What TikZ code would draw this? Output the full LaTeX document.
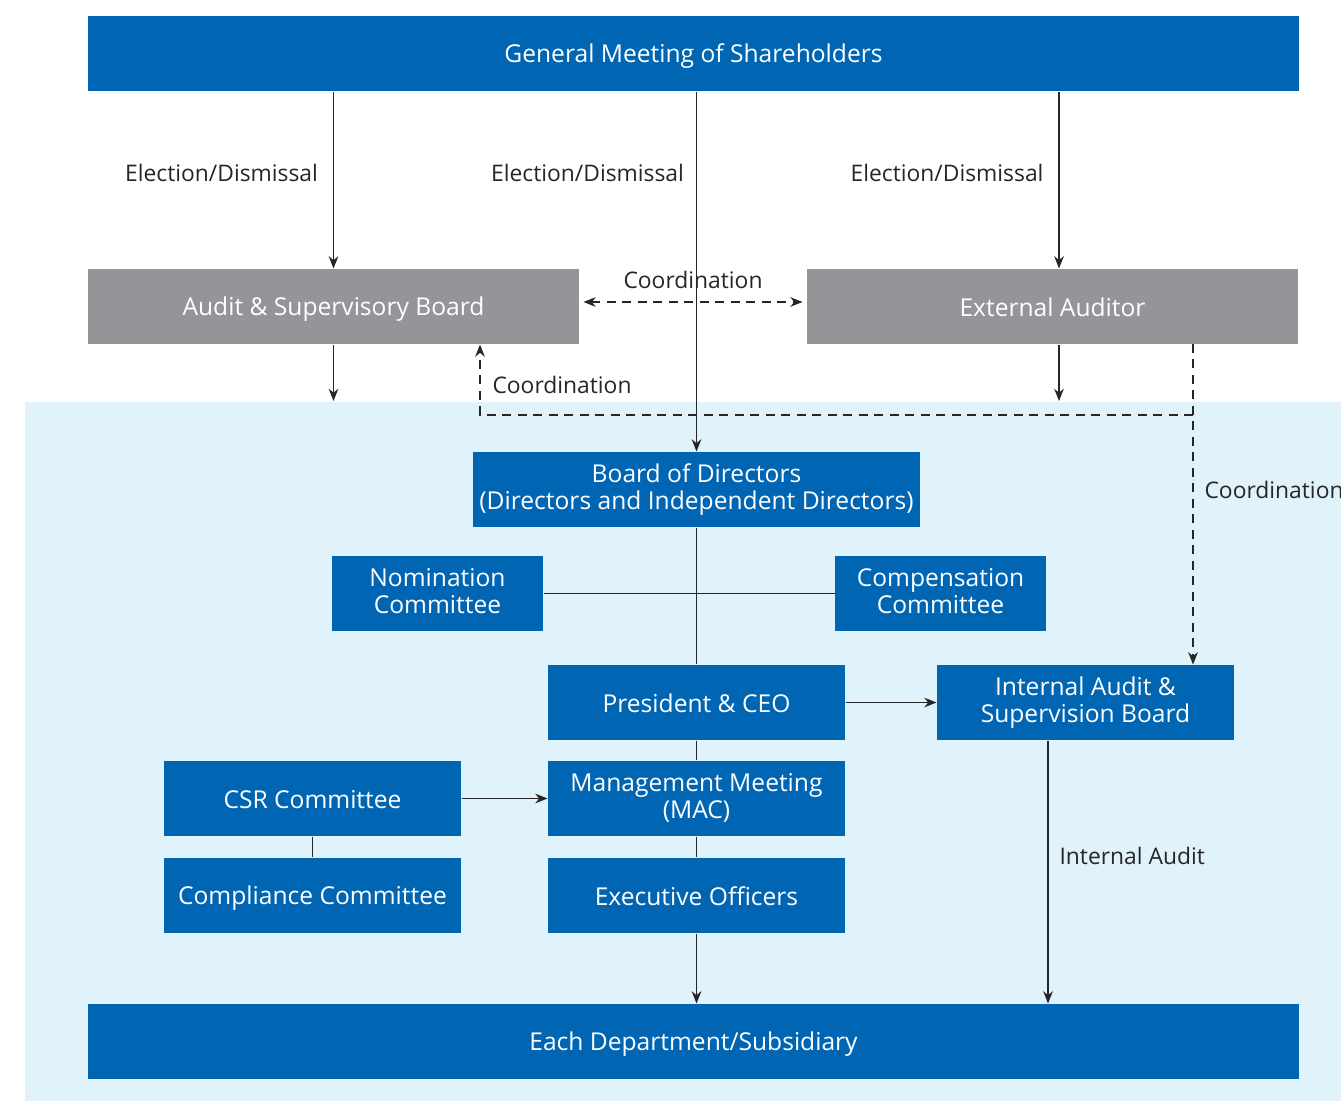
\documentclass[tikz,border=0pt]{standalone}
\usepackage{fontspec}
\setmainfont{Open Sans}
\usetikzlibrary{arrows.meta}
\definecolor{orgblue}{HTML}{0066B3}
\definecolor{orggray}{HTML}{939598}
\definecolor{orgsky}{HTML}{E0F2FA}
\newcommand\ustrut{\rule[-3pt]{0pt}{17pt}}

\begin{document}
\begin{tikzpicture}[line width=0.6pt,>={Stealth[length=7pt,width=5.5pt]},
  x=0.02cm, y=-0.02cm]
\tikzset{unit/.style={fill=orgblue,text=white,inner sep=0pt,minimum height=1.5cm,
    align=center,font=\fontsize{14}{15.3}\selectfont,
    execute at begin node=\ustrut,execute at end node=\ustrut},
  board/.style={unit,fill=orggray},
  lbl/.style={font=\fontsize{13}{15.5}\selectfont,text=black!85,inner sep=0pt},
  link/.style={draw=black!85},
  coord/.style={link,dash pattern=on 0.18cm off 0.13cm}}
\useasboundingbox (0,0) rectangle (1341,1101);
% ---------- background ----------
\node[fill=orgsky,inner sep=0pt,minimum width=26.34cm,minimum height=14cm,anchor=north west] (zone) at (24,401) {};
% ---------- boxes ----------
\node[unit,minimum width=24.22cm] (gms) at (693.5,53.5) {General Meeting of Shareholders};
\node[board,minimum width=9.82cm] (asb) at (333.5,306.5) {Audit \& Supervisory Board};
\node[board,minimum width=9.82cm] (ext) at (1052.5,306.5) {External Auditor};
\node[unit,minimum width=8.94cm] (bod) at (696.5,489.5) {Board of Directors\\(Directors and Independent Directors)};
\node[unit,minimum width=4.22cm] (nom) at (437.5,593.5) {Nomination\\Committee};
\node[unit,minimum width=4.22cm] (comp) at (940.5,593.5) {Compensation\\Committee};
\node[unit,minimum width=5.94cm] (pres) at (696.5,702.5) {President \& CEO};
\node[unit,minimum width=5.94cm] (iasb) at (1085.5,702.5) {Internal Audit \&\\Supervision Board};
\node[unit,minimum width=5.94cm] (csr) at (312.5,798.5) {CSR Committee};
\node[unit,minimum width=5.94cm] (mac) at (696.5,798.5) {Management Meeting\\(MAC)};
\node[unit,minimum width=5.94cm] (comply) at (312.5,895.5) {Compliance Committee};
\node[unit,minimum width=5.94cm] (exec) at (696.5,895.5) {Executive Officers};
\node[unit,minimum width=24.22cm] (dept) at (693.5,1041.5) {Each Department/Subsidiary};
% ---------- election / dismissal ----------
\draw[link,->] (gms.south -| asb.north) -- (asb.north)
  node[lbl,pos=0.46,left=0.3cm] (elA) {Election/Dismissal};
\draw[link,->] (gms.south -| bod.north) -- (bod.north)
  node[lbl,pos=0.225,left=0.24cm] (elB) {Election/Dismissal};
\draw[link,->] ([xshift=0.13cm]gms.south -| ext.north) -- ([xshift=0.13cm]ext.north)
  node[lbl,pos=0.46,left=0.3cm] (elC) {Election/Dismissal};
% ---------- coordination ----------
\draw[coord,<->] ([shift={(0.08cm,0.09cm)}]asb.east) -- ([shift={(-0.08cm,0.09cm)}]ext.west)
  node[lbl,midway,above=0.25cm] (coA) {Coordination};
\coordinate (cx) at (1193,344);
\coordinate (cy) at (480,415);
\draw[coord,->] (cx) -- (cx |- iasb.north);
\draw[coord,->] (cx |- cy) -- (cy) -- (cy |- asb.south);
\node[lbl,anchor=west] (coB) at (492,385) {Coordination};
\node[lbl,anchor=west] (coC) at (1204,490) {Coordination};
\draw[link,->] (asb.south) -- (asb.south |- zone.north);
\draw[link,->] ([xshift=0.13cm]ext.south) -- ([xshift=0.13cm]ext.south |- zone.north);
% ---------- inside the company ----------
\draw[link] (bod.south) -- (pres.north);
\draw[link] (nom.east) -- (comp.west);
\draw[link,->] (pres.east) -- (iasb.west);
\draw[link] (pres.south) -- (mac.north);
\draw[link] (mac.south) -- (exec.north);
\draw[link,->] (csr.east) -- (mac.west);
\draw[link] (csr.south) -- (comply.north);
\draw[link,->] (exec.south) -- (dept.north -| exec.south);
\draw[link,->] ([xshift=-0.75cm]iasb.south) -- ([xshift=-0.75cm]iasb.south |- dept.north)
  node[lbl,pos=0.44,right=0.22cm] (ia) {Internal Audit};
\end{tikzpicture}
\end{document}
